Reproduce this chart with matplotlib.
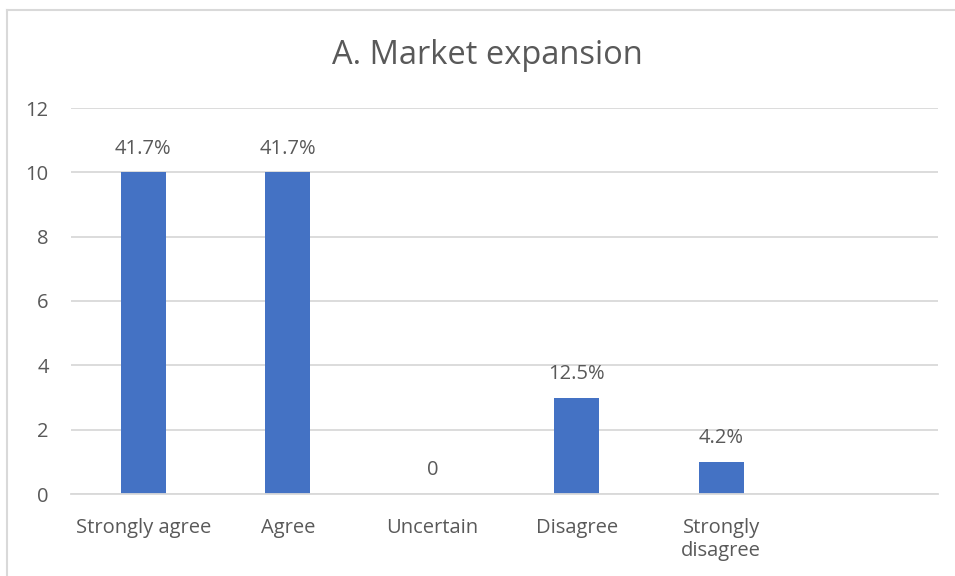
import numpy as np
import matplotlib
matplotlib.use('Agg')
import matplotlib.pyplot as plt
from matplotlib.lines import Line2D

categories = ['Strongly agree', 'Agree', 'Uncertain', 'Disagree', 'Strongly\ndisagree', '']
counts = [10, 10, 0, 3, 1, None]
labels = ['41.7%', '41.7%', '0', '12.5%', '4.2%', None]
yticks = [0, 2, 4, 6, 8, 10, 12]

plt.rcParams['font.family'] = ['Open Sans', 'DejaVu Sans']
text_col = '#595959'
grid_col = '#d9d9d9'
bar_col = '#4472c4'

fig = plt.figure(figsize=(9.55, 5.76), dpi=100)
ax = fig.add_axes([71 / 955, 1 - 494 / 576, (938 - 71) / 955, (494 - 108) / 576])

x = np.arange(len(categories))
vals = [v if v is not None else 0 for v in counts]
ax.bar(x[:5], vals[:5], width=0.31, color=bar_col, zorder=3)

for xi, v, lab in zip(x, counts, labels):
    if lab is None:
        continue
    ax.annotate(lab, (xi, v), xytext=(0, 17), textcoords='offset points',
                ha='center', va='center', fontsize=14.5, color=text_col)

ax.set_xlim(-0.5, len(categories) - 0.5)
ax.set_ylim(0, 12)
ax.set_yticks(yticks)
ax.set_xticks(x)
ax.set_xticklabels(categories, va='top', linespacing=1.2)
ax.tick_params(axis='both', length=0, labelsize=14.5, labelcolor=text_col)
ax.tick_params(axis='y', pad=16)
ax.tick_params(axis='x', pad=17)
ax.grid(axis='y', color=grid_col, lw=1.3, zorder=0)
for s in ['top', 'right', 'left']:
    ax.spines[s].set_visible(False)
ax.spines['bottom'].set_color(grid_col)
ax.spines['bottom'].set_linewidth(1.3)
ax.spines['bottom'].set_zorder(4)

fig.text(487 / 955, 1 - 55 / 576, 'A. Market expansion', ha='center', va='center',
         fontsize=23.5, color=text_col)

# chart border (cut off at right and bottom in the original)
fig.add_artist(Line2D([7 / 955, 7 / 955], [0, 1 - 10 / 576], color=grid_col, lw=1.5))
fig.add_artist(Line2D([7 / 955, 1], [1 - 10 / 576, 1 - 10 / 576], color=grid_col, lw=1.5))

fig.savefig('out.png', dpi=100)
